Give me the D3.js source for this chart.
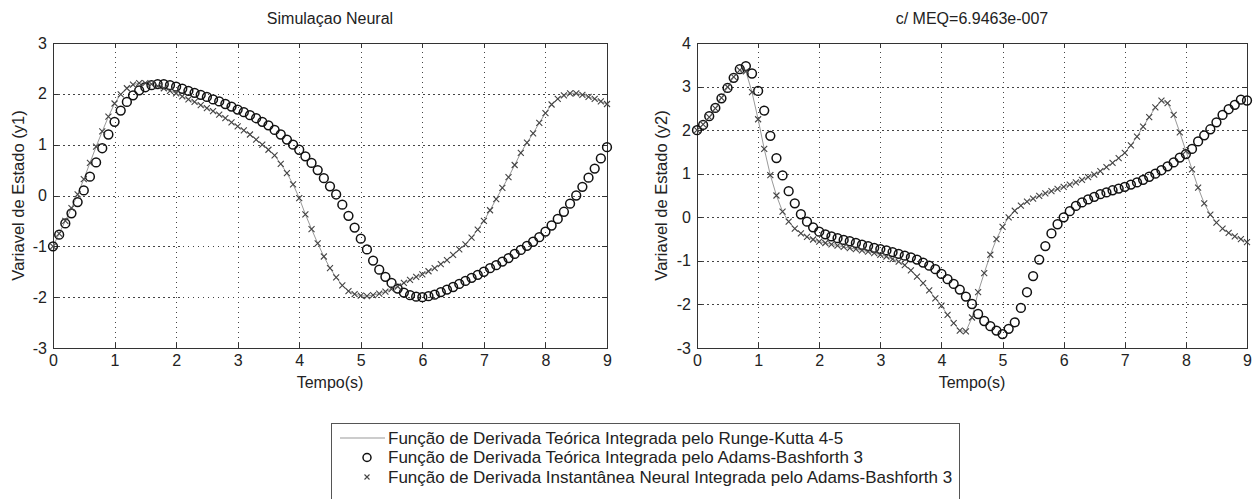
<!DOCTYPE html>
<meta charset="utf-8">
<style>

body {
    margin: 0;
    background: #fff;
}

svg {
    display: block;
    font-family: "Liberation Sans", Arial, sans-serif;
}

text {
    fill: #222;
}

.frame {
    fill: none;
    stroke: #333;
    stroke-width: 1;
    shape-rendering: crispEdges;
}

.grid line {
    stroke: #444;
    stroke-width: 1;
    stroke-dasharray: 1.5,3.5;
    shape-rendering: crispEdges;
}

.grid path,
.axis path {
    display: none;
}

.axis line {
    stroke: #333;
    shape-rendering: crispEdges;
}

.axis text {
    font-size: 16px;
    fill: #222;
}

.rk {
    fill: none;
    stroke: #999;
    stroke-width: 1;
}

.ab3 {
    fill: none;
    stroke: #111;
    stroke-width: 1.5;
}

.neural {
    stroke: #444;
    stroke-width: 1.1;
}

.legend-box {
    fill: #fff;
    stroke: #555;
    stroke-width: 1;
    shape-rendering: crispEdges;
}

</style>
<svg width="1260" height="499"></svg>
<script src="https://d3js.org/d3.v7.min.js"></script>
<script>

// passo de integracao (s)
var passo = 0.1;

// y1 - Adams-Bashforth 3 com derivada teorica (circulos)
var y1Teorica = [
    -1.00, -0.77, -0.55, -0.35, -0.13, 0.10, 0.37, 0.65, 0.93, 1.20,
    1.45, 1.67, 1.84, 1.97, 2.07, 2.13, 2.17, 2.19, 2.19, 2.17,
    2.14, 2.10, 2.06, 2.02, 1.98, 1.94, 1.89, 1.85, 1.80, 1.75,
    1.69, 1.64, 1.58, 1.52, 1.45, 1.38, 1.29, 1.20, 1.10, 1.00,
    0.90, 0.77, 0.64, 0.50, 0.34, 0.18, 0.02, -0.18, -0.40, -0.63,
    -0.85, -1.06, -1.28, -1.46, -1.60, -1.72, -1.83, -1.91, -1.96, -1.99,
    -2.00, -1.98, -1.95, -1.90, -1.85, -1.80, -1.74, -1.68, -1.62, -1.56,
    -1.50, -1.43, -1.37, -1.30, -1.23, -1.15, -1.07, -0.99, -0.91, -0.82,
    -0.71, -0.59, -0.46, -0.32, -0.16, 0.00, 0.17, 0.35, 0.53, 0.73,
    0.95
];

// y1 - derivada neural (cruzes e linha)
var y1Neural = [
    -1.00, -0.75, -0.50, -0.25, 0.02, 0.32, 0.64, 0.96, 1.26, 1.55,
    1.81, 1.99, 2.11, 2.18, 2.21, 2.21, 2.19, 2.15, 2.11, 2.06,
    2.01, 1.95, 1.89, 1.84, 1.78, 1.72, 1.66, 1.59, 1.52, 1.44,
    1.36, 1.28, 1.20, 1.10, 1.00, 0.90, 0.79, 0.62, 0.44, 0.22,
    -0.05, -0.37, -0.66, -0.94, -1.20, -1.43, -1.61, -1.77, -1.88, -1.94,
    -1.97, -1.98, -1.96, -1.93, -1.89, -1.84, -1.79, -1.72, -1.66, -1.60,
    -1.55, -1.49, -1.43, -1.35, -1.27, -1.17, -1.06, -0.96, -0.83, -0.67,
    -0.50, -0.29, -0.07, 0.15, 0.36, 0.60, 0.84, 1.04, 1.22, 1.43,
    1.62, 1.79, 1.90, 1.97, 2.01, 2.01, 1.98, 1.94, 1.90, 1.85,
    1.80
];

// y2 - Adams-Bashforth 3 com derivada teorica (circulos)
var y2Teorica = [
    2.00, 2.12, 2.32, 2.51, 2.73, 2.97, 3.20, 3.40, 3.47, 3.30,
    2.90, 2.45, 1.87, 1.36, 0.96, 0.60, 0.32, 0.07, -0.10, -0.23,
    -0.33, -0.39, -0.44, -0.48, -0.52, -0.55, -0.59, -0.63, -0.66, -0.70,
    -0.73, -0.76, -0.80, -0.84, -0.88, -0.92, -0.97, -1.04, -1.11, -1.19,
    -1.30, -1.42, -1.53, -1.66, -1.82, -1.99, -2.22, -2.38, -2.50, -2.60,
    -2.68, -2.56, -2.41, -2.08, -1.72, -1.35, -0.97, -0.66, -0.37, -0.16,
    0.00, 0.14, 0.26, 0.34, 0.41, 0.47, 0.53, 0.57, 0.62, 0.66,
    0.70, 0.75, 0.80, 0.86, 0.93, 1.00, 1.08, 1.17, 1.26, 1.37,
    1.45, 1.57, 1.74, 1.88, 2.02, 2.18, 2.35, 2.48, 2.58, 2.70,
    2.68
];

// y2 - derivada neural (cruzes e linha)
var y2Neural = [
    2.00, 2.13, 2.30, 2.50, 2.74, 2.99, 3.22, 3.38, 3.35, 2.87,
    2.25, 1.57, 0.97, 0.50, 0.13, -0.10, -0.26, -0.37, -0.45, -0.51,
    -0.56, -0.59, -0.62, -0.65, -0.68, -0.71, -0.73, -0.76, -0.79, -0.82,
    -0.86, -0.90, -0.96, -1.02, -1.10, -1.22, -1.36, -1.51, -1.68, -1.86,
    -2.03, -2.24, -2.43, -2.60, -2.62, -2.30, -1.72, -1.28, -0.86, -0.50,
    -0.22, 0.00, 0.15, 0.27, 0.36, 0.43, 0.49, 0.55, 0.60, 0.65,
    0.70, 0.75, 0.80, 0.86, 0.92, 0.98, 1.06, 1.15, 1.25, 1.36,
    1.48, 1.65, 1.85, 2.08, 2.30, 2.52, 2.68, 2.62, 2.35, 1.95,
    1.52, 1.10, 0.68, 0.32, 0.06, -0.12, -0.26, -0.36, -0.44, -0.50,
    -0.57
];

var xTicks = [0, 1, 2, 3, 4, 5, 6, 7, 8, 9];
var y1Ticks = [-3, -2, -1, 0, 1, 2, 3];
var y2Ticks = [-3, -2, -1, 0, 1, 2, 3, 4];

var titulos = ["Simulaçao Neural", "c/ MEQ=6.9463e-007"];
var rotulosY = ["Variavel de Estado (y1)", "Variavel de Estado (y2)"];
var rotuloX = "Tempo(s)";
var legendaTextos = [
    "Função de Derivada Teórica Integrada pelo Runge-Kutta 4-5",
    "Função de Derivada Teórica Integrada pelo Adams-Bashforth 3",
    "Função de Derivada Instantânea Neural Integrada pelo Adams-Bashforth 3"
];

var svg = d3.select("svg");

var paineis = [
    {left: 53, right: 607, top: 43, bottom: 348, yDomain: [-3, 3], yTicks: y1Ticks,
     teorica: y1Teorica, neural: y1Neural, titulo: titulos[0], rotuloY: rotulosY[0], labelX: 24},
    {left: 697, right: 1247, top: 43, bottom: 348, yDomain: [-3, 4], yTicks: y2Ticks,
     teorica: y2Teorica, neural: y2Neural, titulo: titulos[1], rotuloY: rotulosY[1], labelX: 667}
];

// rotulos como no matlab: inteiros com hifen
var fmt = function(d) { return String(d); };

// cruz pequena (marcador "x" do matlab)
function cruz(s) {
    return "M" + (-s) + "," + (-s) + "L" + s + "," + s + "M" + (-s) + "," + s + "L" + s + "," + (-s);
}

paineis.forEach(function(p) {
    var width = p.right - p.left,
        height = p.bottom - p.top;

    var x = d3.scaleLinear().domain([0, 9]).range([0, width]);
    var y = d3.scaleLinear().domain(p.yDomain).range([height, 0]);

    var g = svg.append("g").attr("transform", "translate(" + p.left + "," + p.top + ")");

    // grade pontilhada
    g.append("g")
        .attr("class", "grid")
        .attr("transform", "translate(0," + height + ")")
        .call(d3.axisBottom(x).tickValues(xTicks).tickSize(-height).tickFormat(""));
    g.append("g")
        .attr("class", "grid")
        .call(d3.axisLeft(y).tickValues(p.yTicks).tickSize(-width).tickFormat(""));

    // eixos com ticks para dentro
    g.append("g")
        .attr("class", "axis")
        .attr("transform", "translate(0," + height + ")")
        .call(d3.axisBottom(x).tickValues(xTicks).tickFormat(fmt).tickSizeInner(-5).tickSizeOuter(0).tickPadding(7));
    g.append("g")
        .attr("class", "axis")
        .call(d3.axisTop(x).tickValues(xTicks).tickSizeInner(-5).tickSizeOuter(0).tickFormat(""));
    g.append("g")
        .attr("class", "axis")
        .call(d3.axisLeft(y).tickValues(p.yTicks).tickFormat(fmt).tickSizeInner(-5).tickSizeOuter(0).tickPadding(6));
    g.append("g")
        .attr("class", "axis")
        .attr("transform", "translate(" + width + ",0)")
        .call(d3.axisRight(y).tickValues(p.yTicks).tickSizeInner(-5).tickSizeOuter(0).tickFormat(""));

    g.append("rect")
        .attr("class", "frame")
        .attr("x", 0.5)
        .attr("y", 0.5)
        .attr("width", width)
        .attr("height", height);

    // linha (runge-kutta)
    var line = d3.line()
        .x(function(d, i) { return x(i * passo); })
        .y(function(d) { return y(d); });

    g.append("path")
        .attr("class", "rk")
        .attr("d", line(p.neural));

    // circulos
    g.selectAll(".ab3")
        .data(p.teorica)
        .enter()
        .append("circle")
            .attr("class", "ab3")
            .attr("cx", function(d, i) { return x(i * passo); })
            .attr("cy", function(d) { return y(d); })
            .attr("r", 4.4);

    // cruzes
    g.selectAll(".neural")
        .data(p.neural)
        .enter()
        .append("path")
            .attr("class", "neural")
            .attr("transform", function(d, i) { return "translate(" + x(i * passo) + "," + y(d) + ")"; })
            .attr("d", cruz(3));

    // textos
    svg.append("text")
        .attr("x", (p.left + p.right) / 2)
        .attr("y", 24)
        .attr("text-anchor", "middle")
        .attr("font-size", "16px")
        .text(p.titulo);

    svg.append("text")
        .attr("x", (p.left + p.right) / 2)
        .attr("y", 388)
        .attr("text-anchor", "middle")
        .attr("font-size", "16px")
        .text(rotuloX);

    svg.append("text")
        .attr("transform", "translate(" + p.labelX + "," + ((p.top + p.bottom) / 2) + ") rotate(-90)")
        .attr("text-anchor", "middle")
        .attr("font-size", "16.5px")
        .text(p.rotuloY);
});

// legenda
var leg = svg.append("g").attr("transform", "translate(331,423)");

leg.append("rect")
    .attr("class", "legend-box")
    .attr("x", 0.5)
    .attr("y", 0.5)
    .attr("width", 628)
    .attr("height", 90);

var linhas = leg.selectAll(".item")
    .data(legendaTextos)
    .enter()
    .append("g")
        .attr("class", "item")
        .attr("transform", function(d, i) { return "translate(0," + (15 + 19.5 * i) + ")"; });

linhas.append("text")
    .attr("x", 57)
    .attr("dy", "0.35em")
    .attr("font-size", "17px")
    .text(function(d) { return d; });

linhas.filter(function(d, i) { return i == 0; })
    .append("line")
        .attr("class", "rk")
        .attr("x1", 9)
        .attr("x2", 54)
        .attr("y1", 0)
        .attr("y2", 0);

linhas.filter(function(d, i) { return i == 1; })
    .append("circle")
        .attr("class", "ab3")
        .attr("cx", 36)
        .attr("cy", 0)
        .attr("r", 4);

linhas.filter(function(d, i) { return i == 2; })
    .append("path")
        .attr("class", "neural")
        .attr("transform", "translate(36,0)")
        .attr("d", cruz(2.5));

</script>
